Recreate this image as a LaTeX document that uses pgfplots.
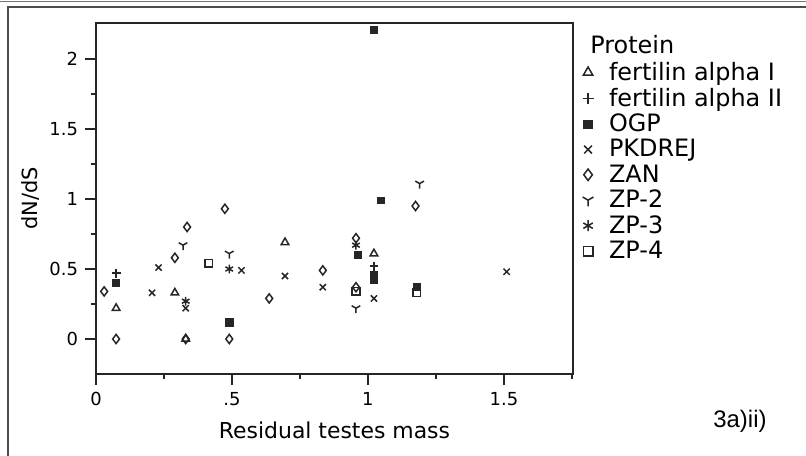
\documentclass[border=0pt]{standalone}
\usepackage{fontspec}
\setmainfont{DejaVu Sans}
\newfontfamily\arialfont{Liberation Sans}
\usepackage{pgfplots}
\pgfplotsset{compat=1.18}
\begin{document}
\begin{tikzpicture}
\path[use as bounding box] (-48bp,-41bp) rectangle (355bp,187bp);
\begin{axis}[
  at={(0,0)}, anchor=south west,
  scale only axis, width=238.5bp, height=175.5bp,
  xmin=0, xmax=1.754, ymin=-0.25, ymax=2.257,
  axis line style={line width=0.6bp, black!85},
  xtick={0,0.5,1,1.5}, xticklabels={0,.5,1,1.5},
  minor xtick={0.25,0.75,1.25,1.75},
  ytick={0,0.5,1,1.5,2}, yticklabels={0,0.5,1,1.5,2},
  minor ytick={0.25,0.75,1.25,1.75},
  tick align=outside, xtick pos=bottom, ytick pos=left,
  major tick length=5.5bp, minor tick length=2.5bp,
  tick style={line width=0.6bp, black!85},
  /pgf/number format/assume math mode=true,
  ticklabel style={font=\fontsize{9}{10}\selectfont},
  xlabel={Residual testes mass}, ylabel={dN/dS},
  xlabel style={at={(axis description cs:0.5,-0.16)}, anchor=center, font=\fontsize{11}{12}\selectfont},
  ylabel style={at={(axis description cs:-0.138,0.5)}, anchor=center, font=\fontsize{10.5}{12}\selectfont},
  clip=false,
  legend cell align=left,
  legend style={draw=none, fill=none, inner sep=0pt, at={(rel axis cs:1.014,0.892)}, anchor=north west,
    font=\fontsize{12}{13}\selectfont, row sep=1.8bp,
    nodes={inner ysep=0.3bp, inner xsep=2bp}},
  every axis plot/.append style={only marks, black!85, mark options={line width=0.75bp, solid},
    legend image code/.code={\path[draw=none, fill=none] (-4bp,-1bp) rectangle (8.5bp,1bp); \draw[##1, every mark/.append style={scale=1.25}] plot coordinates {(0bp,0bp)};}},
]
% fertilin alpha I
\addplot[mark=triangle, mark size=2.2pt] coordinates {(0.074,0.22) (0.29,0.33) (0.33,0.0) (0.695,0.69) (1.022,0.61)};
\addlegendentry{fertilin alpha I}
% fertilin alpha II
\addplot[mark=+, mark size=2.2pt] coordinates {(0.074,0.47) (1.022,0.52)};
\addlegendentry{fertilin alpha II}
% OGP
\addplot[mark=square*, mark size=1.7pt, mark options={fill=black!85}] coordinates {(0.074,0.40) (0.49,0.12) (0.963,0.60) (1.022,0.46) (1.022,0.42) (1.022,2.21) (1.048,0.99) (1.18,0.37)};
\addlegendentry{OGP}
% PKDREJ
\addplot[mark=x, mark size=2.2pt] coordinates {(0.206,0.33) (0.23,0.51) (0.33,0.22) (0.535,0.49) (0.695,0.45) (0.834,0.37) (1.022,0.29) (1.51,0.48)};
\addlegendentry{PKDREJ}
% ZAN
\addplot[mark=diamond, mark size=2.3pt] coordinates {(0.03,0.34) (0.074,0.0) (0.29,0.58) (0.335,0.80) (0.474,0.93) (0.33,0.0) (0.49,0.0) (0.637,0.29) (0.834,0.49) (0.956,0.72) (0.956,0.37) (1.175,0.95)};
\addlegendentry{ZAN}
% ZP-2
\addplot[mark=Mercedes star flipped, mark size=2.5pt] coordinates {(0.32,0.67) (0.49,0.61) (0.956,0.22) (1.19,1.11)};
\addlegendentry{ZP-2}
% ZP-3
\addplot[mark=asterisk, mark size=2.2pt] coordinates {(0.33,0.27) (0.49,0.50) (0.956,0.67)};
\addlegendentry{ZP-3}
% ZP-4
\addplot[mark=square, mark size=1.9pt] coordinates {(0.415,0.54) (0.49,0.12) (0.956,0.34) (1.18,0.33)};
\addlegendentry{ZP-4}
\end{axis}
\node[anchor=west, inner sep=0pt, font=\fontsize{12}{13}\selectfont] at (247bp,164.5bp) {Protein};
\node[anchor=west, inner sep=0pt, font=\arialfont\fontsize{12}{14}\selectfont] at (308.5bp,-23.5bp) {3a)ii)};
\draw[line width=0.7bp, black!70] (-44bp,-41bp) -- (-44bp,183.5bp) -- (355bp,183.5bp);
\draw[line width=0.5bp, black!55] (-48bp,186bp) -- (355bp,186bp);
\end{tikzpicture}
\end{document}
